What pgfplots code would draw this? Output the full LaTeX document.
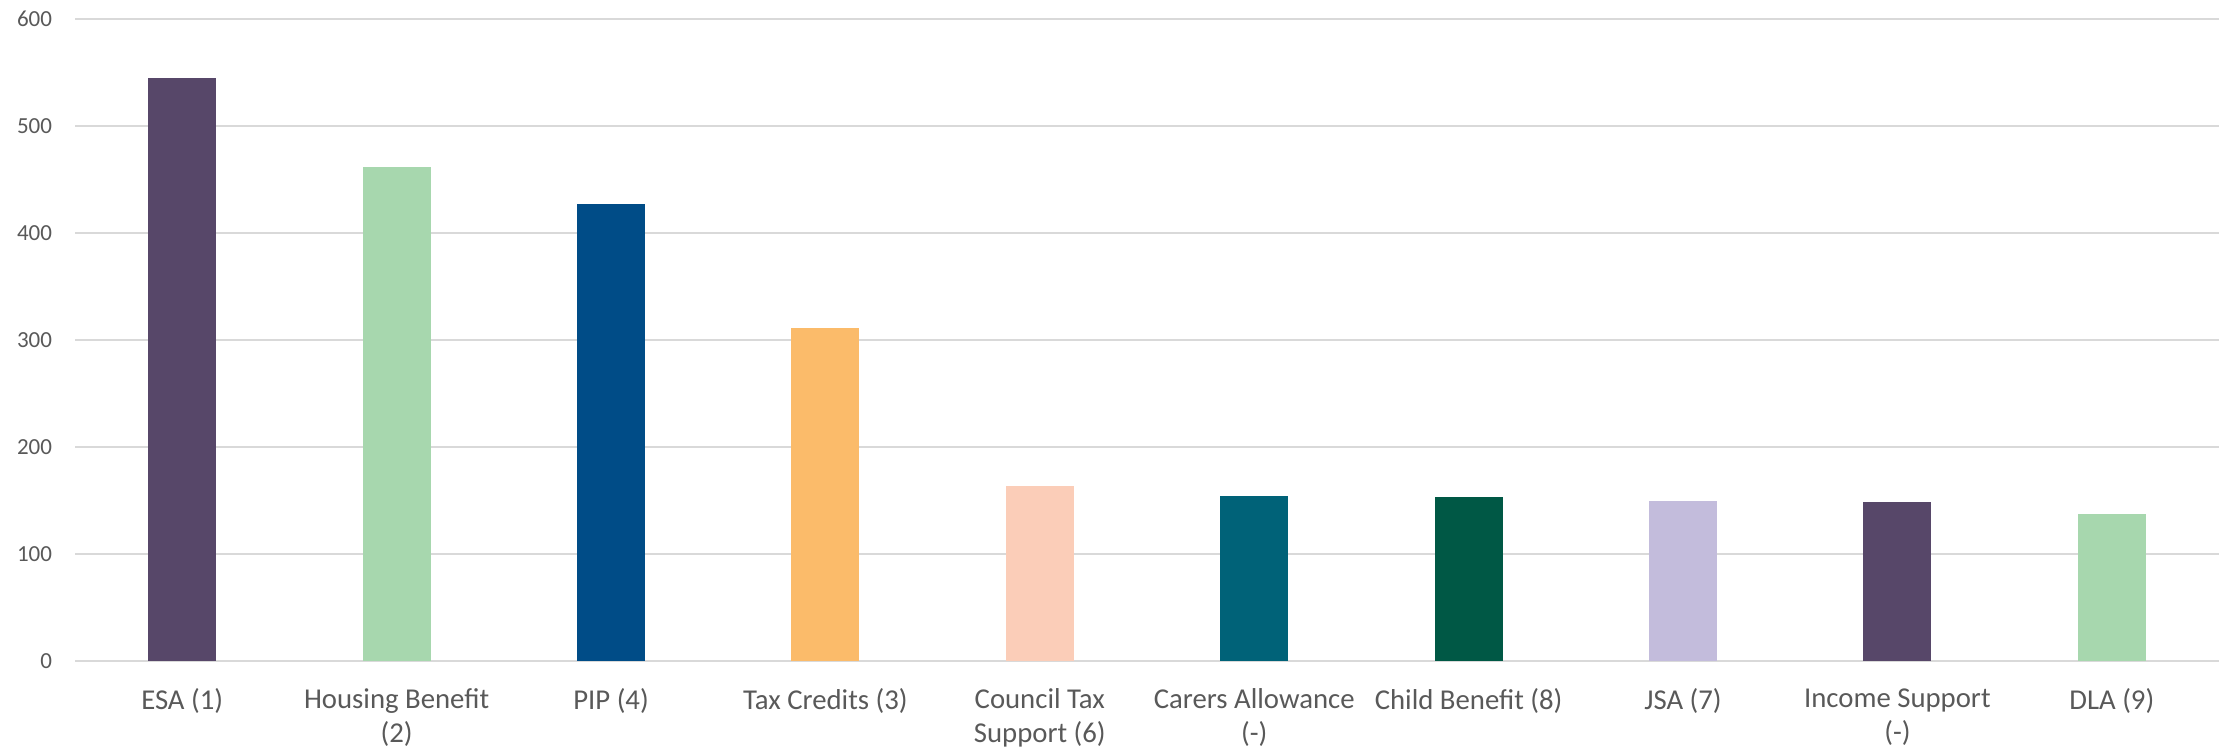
\documentclass[border=0pt]{standalone}
\usepackage{fontspec}
\setmainfont{Carlito}
\usepackage{pgfplots}
\pgfplotsset{compat=1.18}
\definecolor{cPurple}{HTML}{574769}
\definecolor{cGreen}{HTML}{A7D7AE}
\definecolor{cBlue}{HTML}{004C87}
\definecolor{cOrange}{HTML}{FBBB6A}
\definecolor{cPeach}{HTML}{FBCDB8}
\definecolor{cTeal}{HTML}{006278}
\definecolor{cDkGreen}{HTML}{005845}
\definecolor{cLilac}{HTML}{C3BCDC}
\definecolor{cGrid}{HTML}{D9D9D9}
\definecolor{cText}{HTML}{595959}
\begin{document}
\begin{tikzpicture}
\begin{axis}[
  at={(0,0)}, anchor=south west,
  scale only axis,
  width=857.6pt, height=256.8pt,
  xmin=-0.5, xmax=9.5, ymin=0, ymax=600,
  ytick={0,100,...,600},
  xtick={0,...,9},
  xticklabels={ESA (1),{Housing Benefit\\(2)},PIP (4),Tax Credits (3),{Council Tax\\Support (6)},{Carers Allowance\\(-)},Child Benefit (8),JSA (7),{Income Support\\(-)},DLA (9)},
  axis line style={draw=none},
  major tick length=0pt,
  ymajorgrids,
  major grid style={color=cGrid, line width=0.6pt},
  /pgf/number format/assume math mode=true,
  yticklabel style={font=\fontsize{9.2}{11}\selectfont, text=cText, inner sep=0pt, xshift=-9pt},
  xticklabel style={font=\fontsize{11.5}{13.7}\selectfont, text=cText, inner sep=0pt, anchor=north, yshift=-10.8pt, align=center},
  ybar, bar width=27.2pt, bar shift=0pt,
  every axis plot/.append style={draw=none},
]
\addplot[fill=cPurple] coordinates {(0,545)};
\addplot[fill=cGreen] coordinates {(1,462)};
\addplot[fill=cBlue] coordinates {(2,427)};
\addplot[fill=cOrange] coordinates {(3,311)};
\addplot[fill=cPeach] coordinates {(4,164)};
\addplot[fill=cTeal] coordinates {(5,154)};
\addplot[fill=cDkGreen] coordinates {(6,153)};
\addplot[fill=cLilac] coordinates {(7,150)};
\addplot[fill=cPurple] coordinates {(8,149)};
\addplot[fill=cGreen] coordinates {(9,137)};
\end{axis}
\pgfresetboundingbox
\path (-30pt,-36.4pt) rectangle (861.6pt,264.4pt);
\end{tikzpicture}
\end{document}
